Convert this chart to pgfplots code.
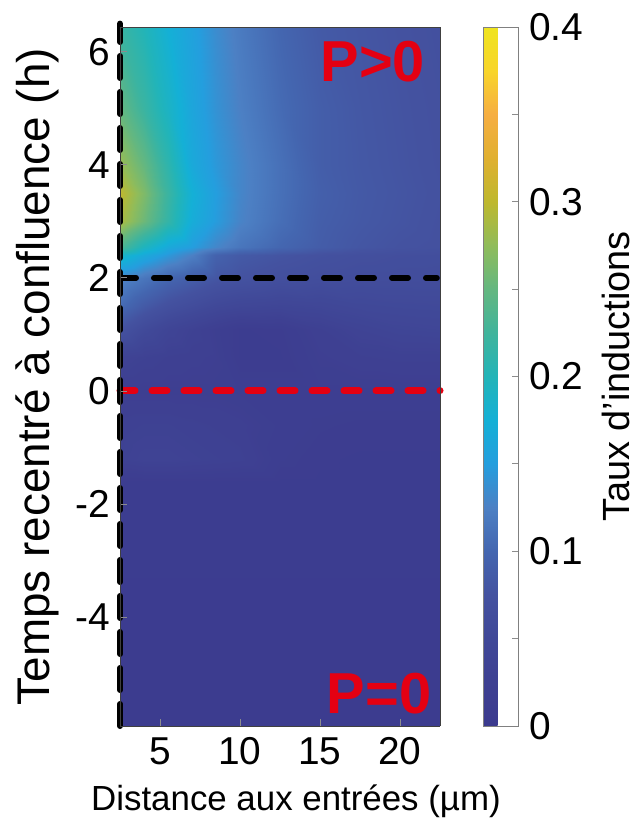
\documentclass[border=0pt]{standalone}
\usepackage{fontspec}
\setmainfont{Liberation Sans}
\usepackage{pgfplots}
\pgfplotsset{compat=1.18}
\pgfplotsset{
  colormap={parulaimg}{
    rgb255=(59,58,142) rgb255=(62,64,146) rgb255=(64,72,152) rgb255=(68,82,160)
    rgb255=(68,102,176) rgb255=(76,128,196) rgb255=(36,158,222) rgb255=(20,176,214)
    rgb255=(34,180,184) rgb255=(64,180,156) rgb255=(100,183,128) rgb255=(144,188,90)
    rgb255=(190,184,46) rgb255=(224,176,48) rgb255=(246,174,66) rgb255=(248,213,42)
    rgb255=(239,228,31)
  }
}
\definecolor{pred}{RGB}{228,0,18}
\begin{document}
\begin{tikzpicture}
\begin{axis}[
  name=main,
  view={0}{90},
  scale only axis,
  width=320bp, height=699bp,
  xmin=2.5, xmax=22.5, ymin=-5.93, ymax=6.44,
  xtick={5,10,15,20}, ytick={-4,-2,0,2,4,6},
  tick pos=left,
  tick align=inside,
  major tick length=7bp,
  tick style={black!45, line width=0.8bp},
  axis line style={draw=black!75, line width=0.8bp},
  axis on top,
  clip=false,
  colormap name=parulaimg,
  point meta min=0, point meta max=0.4,
  /pgf/number format/assume math mode=true,
  tick label style={font=\fontsize{39}{39}\selectfont},
  xticklabel style={yshift=-8bp},
  yticklabel style={xshift=-6bp},
  xlabel={Distance aux entrées (µm)},
  ylabel={Temps recentré à confluence (h)},
  xlabel style={font=\fontsize{35}{35}\selectfont, yshift=-13bp, xshift=16bp},
  ylabel style={font=\fontsize{46}{46}\selectfont, yshift=10bp},
  colorbar,
  colorbar style={
     at={(parent axis.north east)}, anchor=north west, xshift=35bp,
     width=35bp,
     ytick={0,0.1,0.2,0.3,0.4},
     minor ytick={0.05,0.15,0.25,0.35},
     ytick pos=right,
     tick align=inside,
     major tick length=7bp, minor tick length=7bp,
     tick style={black!45, line width=0.8bp},
     axis line style={draw=black!50, line width=0.8bp},
     /pgf/number format/assume math mode=true,
     yticklabel style={font=\fontsize{39}{39}\selectfont, xshift=7bp},
     ylabel={Taux d'inductions},
     ylabel style={font=\fontsize{38}{38}\selectfont, yshift=-12bp},
  },
]
\addplot3[surf, shader=interp, mesh/cols=11] table {
x y z
2.5 -5.93 0.008
4 -5.93 0.008
5.5 -5.93 0.008
7 -5.93 0.008
8.5 -5.93 0.008
10 -5.93 0.008
12.5 -5.93 0.008
15 -5.93 0.008
17.5 -5.93 0.008
20 -5.93 0.008
22.5 -5.93 0.008
2.5 -1.6 0.012
4 -1.6 0.012
5.5 -1.6 0.012
7 -1.6 0.012
8.5 -1.6 0.012
10 -1.6 0.012
12.5 -1.6 0.012
15 -1.6 0.012
17.5 -1.6 0.012
20 -1.6 0.012
22.5 -1.6 0.012
2.5 -1.2 0.030
4 -1.2 0.034
5.5 -1.2 0.034
7 -1.2 0.032
8.5 -1.2 0.030
10 -1.2 0.028
12.5 -1.2 0.016
15 -1.2 0.013
17.5 -1.2 0.012
20 -1.2 0.012
22.5 -1.2 0.012
2.5 -0.6 0.028
4 -0.6 0.030
5.5 -0.6 0.030
7 -0.6 0.028
8.5 -0.6 0.026
10 -0.6 0.024
12.5 -0.6 0.018
15 -0.6 0.015
17.5 -0.6 0.014
20 -0.6 0.014
22.5 -0.6 0.014
2.5 0 0.020
4 0 0.020
5.5 0 0.020
7 0 0.020
8.5 0 0.020
10 0 0.018
12.5 0 0.018
15 0 0.018
17.5 0 0.018
20 0 0.018
22.5 0 0.018
2.5 0.6 0.035
4 0.6 0.030
5.5 0.6 0.026
7 0.6 0.024
8.5 0.6 0.022
10 0.6 0.012
12.5 0.6 0.012
15 0.6 0.022
17.5 0.6 0.026
20 0.6 0.028
22.5 0.6 0.028
2.5 1.1 0.075
4 1.1 0.055
5.5 1.1 0.040
7 1.1 0.030
8.5 1.1 0.020
10 1.1 0.012
12.5 1.1 0.014
15 1.1 0.026
17.5 1.1 0.036
20 1.1 0.042
22.5 1.1 0.044
2.5 1.5 0.105
4 1.5 0.085
5.5 1.5 0.070
7 1.5 0.060
8.5 1.5 0.050
10 1.5 0.045
12.5 1.5 0.042
15 1.5 0.045
17.5 1.5 0.050
20 1.5 0.052
22.5 1.5 0.053
2.5 2 0.130
4 2 0.115
5.5 2 0.100
7 2 0.090
8.5 2 0.080
10 2 0.075
12.5 2 0.068
15 2 0.064
17.5 2 0.062
20 2 0.062
22.5 2 0.062
2.5 2.4 0.190
4 2.4 0.165
5.5 2.4 0.145
7 2.4 0.125
8.5 2.4 0.095
10 2.4 0.085
12.5 2.4 0.078
15 2.4 0.072
17.5 2.4 0.068
20 2.4 0.066
22.5 2.4 0.065
2.5 2.55 0.235
4 2.55 0.195
5.5 2.55 0.165
7 2.55 0.150
8.5 2.55 0.130
10 2.55 0.115
12.5 2.55 0.100
15 2.55 0.088
17.5 2.55 0.080
20 2.55 0.075
22.5 2.55 0.072
2.5 3 0.290
4 3 0.255
5.5 3 0.215
7 3 0.170
8.5 3 0.148
10 3 0.128
12.5 3 0.108
15 3 0.090
17.5 3 0.083
20 3 0.078
22.5 3 0.073
2.5 3.5 0.300
4 3.5 0.265
5.5 3.5 0.220
7 3.5 0.175
8.5 3.5 0.150
10 3.5 0.130
12.5 3.5 0.110
15 3.5 0.092
17.5 3.5 0.084
20 3.5 0.079
22.5 3.5 0.074
2.5 4 0.280
4 4 0.250
5.5 4 0.210
7 4 0.165
8.5 4 0.145
10 4 0.130
12.5 4 0.110
15 4 0.090
17.5 4 0.083
20 4 0.078
22.5 4 0.073
2.5 5 0.250
4 5 0.220
5.5 5 0.190
7 5 0.160
8.5 5 0.140
10 5 0.125
12.5 5 0.105
15 5 0.090
17.5 5 0.082
20 5 0.077
22.5 5 0.072
2.5 6.44 0.220
4 6.44 0.200
5.5 6.44 0.175
7 6.44 0.155
8.5 6.44 0.135
10 6.44 0.120
12.5 6.44 0.100
15 6.44 0.085
17.5 6.44 0.080
20 6.44 0.075
22.5 6.44 0.070
};
\addplot3[pred, line width=7bp, line cap=round, dash pattern=on 15bp off 17bp, mark=none] coordinates {(2.5,0,0.5) (22.5,0,0.5)};
\addplot3[black, line width=6bp, line cap=round, dash pattern=on 16bp off 18bp, mark=none] coordinates {(2.5,2,0.5) (22.3,2,0.5)};
\addplot3[black, line width=6bp, line cap=round, dash pattern=on 22bp off 14bp, mark=none] coordinates {(2.5,-5.93,0.5) (2.5,6.5,0.5)};
\node[text=pred, font=\fontsize{58}{58}\selectfont\bfseries, inner sep=0pt] at (axis cs:18.3,5.82,0.5) {P>0};
\node[text=pred, font=\fontsize{58}{58}\selectfont\bfseries, inner sep=0pt] at (axis cs:18.7,-5.35,0.5) {P=0};
\end{axis}
\pgfresetboundingbox
\path (main.south west) ++(-120bp,-94bp) rectangle ++(641bp,820bp);
\end{tikzpicture}
\end{document}
